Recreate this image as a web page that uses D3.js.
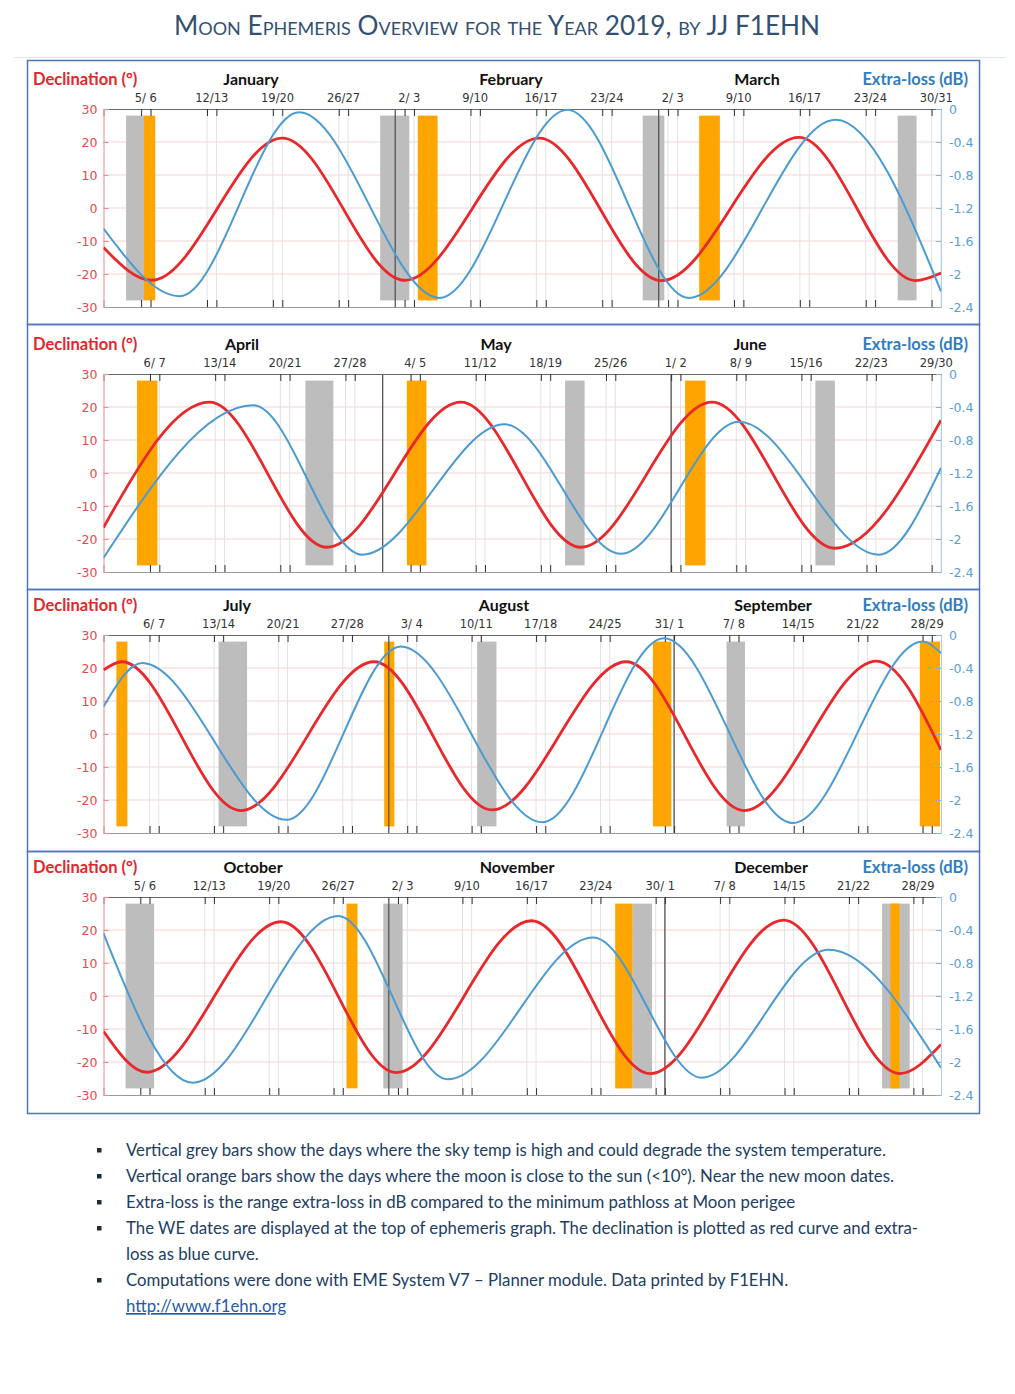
<!DOCTYPE html>
<html>
<head>
<meta charset="utf-8">
<script src="https://cdn.jsdelivr.net/npm/d3@7"></script>
<style>
  body { margin: 0; background: #fff; }
  svg { display: block; }
</style>
</head>
<body>
<div id="chart"></div>
<script>
const W = 1015, H = 1394;

// quarters shown in the four panels
const quarters = [
  { start: "2019-01-01", end: "2019-03-31", months: ["January", "February", "March"] },
  { start: "2019-04-01", end: "2019-06-30", months: ["April", "May", "June"] },
  { start: "2019-07-01", end: "2019-09-30", months: ["July", "August", "September"] },
  { start: "2019-10-01", end: "2019-12-31", months: ["October", "November", "December"] }
];

// week-end labels (Sat/Sun), one list per quarter
const weLabels = [
  ["5/ 6", "12/13", "19/20", "26/27", "2/ 3", "9/10", "16/17", "23/24", "2/ 3", "9/10", "16/17", "23/24", "30/31"],
  ["6/ 7", "13/14", "20/21", "27/28", "4/ 5", "11/12", "18/19", "25/26", "1/ 2", "8/ 9", "15/16", "22/23", "29/30"],
  ["6/ 7", "13/14", "20/21", "27/28", "3/ 4", "10/11", "17/18", "24/25", "31/ 1", "7/ 8", "14/15", "21/22", "28/29"],
  ["5/ 6", "12/13", "19/20", "26/27", "2/ 3", "9/10", "16/17", "23/24", "30/ 1", "7/ 8", "14/15", "21/22", "28/29"]
];

// declination (deg) : [days since start of quarter, value]
const declQ1 = [[0, -12], [5.1, -21.9], [19.0, 21.2], [32.0, -21.9], [46.3, 21.2], [59.3, -22.0], [73.9, 21.4], [86.3, -22.0], [89, -19.7]];
const declQ2 = [[0, -16.5], [11.4, 21.5], [24.0, -22.5], [38.4, 21.5], [51.3, -22.5], [65.4, 21.5], [78.6, -22.8], [90, 16]];
const declQ3 = [[0, 19.4], [2.0, 21.9], [14.9, -23.2], [29.4, 21.9], [42.2, -23.0], [56.8, 21.9], [69.6, -23.2], [84.0, 22.1], [91, -4.8]];
const declQ4 = [[0, -10.7], [4.7, -23.1], [19.3, 22.5], [31.8, -23.2], [46.5, 22.8], [59.4, -23.5], [73.9, 23.0], [86.5, -23.5], [91, -14.7]];

// extra-loss (dB) : [days since start of quarter, value]
const lossQ1 = [[0, -1.45], [8.1, -2.27], [20.8, -0.04], [35.7, -2.29], [49.3, -0.01], [62.2, -2.29], [77.8, -0.13], [89, -2.21]];
const lossQ2 = [[0, -2.23], [16.1, -0.38], [27.8, -2.19], [43.1, -0.61], [55.6, -2.18], [68.3, -0.58], [83.3, -2.19], [90, -1.14]];
const lossQ3 = [[0, -0.87], [4.2, -0.34], [19.9, -2.24], [32.3, -0.14], [47.7, -2.27], [60.9, -0.04], [74.9, -2.28], [89.0, -0.08], [91, -0.22]];
const lossQ4 = [[0, -0.44], [9.7, -2.25], [25.5, -0.23], [37.4, -2.21], [53.2, -0.49], [65.0, -2.19], [78.8, -0.64], [91, -2.07]];

// grey bars (high sky temp) and orange bars (moon close to sun) : [from, to] days
const greyQ1 = [[2.4, 4.3], [29.4, 32.5], [57.3, 59.6], [84.4, 86.4]];
const greyQ2 = [[21.7, 24.7], [49.6, 51.7], [76.5, 78.6]];
const greyQ3 = [[12.5, 15.6], [40.6, 42.7], [67.7, 69.7]];
const greyQ4 = [[2.4, 5.5], [30.4, 32.5], [57.5, 59.6], [84.6, 87.6]];
const orangeQ1 = [[4.3, 5.5], [33.4, 35.5], [63.3, 65.5]];
const orangeQ2 = [[3.6, 5.8], [32.6, 34.7], [62.5, 64.7]];
const orangeQ3 = [[1.4, 2.6], [30.5, 31.6], [59.7, 61.7], [88.7, 90.9]];
const orangeQ4 = [[26.4, 27.6], [55.6, 57.5], [85.5, 86.5]];

const declTicks = [-30, -20, -10, 0, 10, 20, 30];
const lossTicks = [0, -0.4, -0.8, -1.2, -1.6, -2, -2.4];

const notes = [
  "Vertical grey bars show the days where the sky temp is high and could degrade the system temperature.",
  "Vertical orange bars show the days where the moon is close to the sun (<10°). Near the new moon dates.",
  "Extra-loss is the range extra-loss in dB compared to the minimum pathloss at Moon perigee",
  "The WE dates are displayed at the top of ephemeris graph. The declination is plotted as red curve and extra-|loss as blue curve.",
  "Computations were done with EME System V7 – Planner module. Data printed by F1EHN.|http://www.f1ehn.org"
];

const declData = [declQ1, declQ2, declQ3, declQ4];
const lossData = [lossQ1, lossQ2, lossQ3, lossQ4];
const greyData = [greyQ1, greyQ2, greyQ3, greyQ4];
const orangeData = [orangeQ1, orangeQ2, orangeQ3, orangeQ4];

// layout
const plotL = 103.5, plotR = 941, plotH = 198;
const plotTops = [109, 374, 635, 897];
const boxYs = [60, 324, 589, 851, 1113];
const monthLabelX = [[251, 511, 757], [242, 496, 750], [237, 504, 773], [253, 517, 771]];
const tickFont = "'DejaVu Sans', Verdana, sans-serif";
const parseDay = d3.utcParse("%Y-%m-%d");

const svg = d3.select("#chart").append("svg")
  .attr("width", W)
  .attr("height", H)
  .style("font-family", "Lato, sans-serif");

// title
svg.append("text")
  .attr("x", 497)
  .attr("y", 35)
  .attr("text-anchor", "middle")
  .attr("fill", "#34506f")
  .style("font-size", "26.2px")
  .style("font-variant", "small-caps")
  .text("Moon Ephemeris Overview for the Year 2019, by JJ F1EHN");

svg.append("line")
  .attr("x1", 14).attr("x2", 1005)
  .attr("y1", 57.5).attr("y2", 57.5)
  .attr("stroke", "#dce8f5");

quarters.forEach((q, i) => drawPanel(q, i));
drawNotes();

function drawPanel(q, i) {
  const start = parseDay(q.start), end = parseDay(q.end);
  const nDays = d3.utcDay.count(start, end);
  const top = plotTops[i], bottom = top + plotH;

  const x = d3.scaleLinear().domain([0, nDays]).range([plotL, plotR]);
  const y = d3.scaleLinear().domain([-30, 30]).range([bottom, top]);
  const yLoss = d3.scaleLinear().domain([-2.4, 0]).range([bottom, top]);

  const g = svg.append("g").attr("class", "panel");

  // panel frame
  g.append("rect")
    .attr("x", 27.5).attr("y", boxYs[i] + 0.5)
    .attr("width", 952).attr("height", boxYs[i + 1] - boxYs[i])
    .attr("fill", "none")
    .attr("stroke", "#4f76b8")
    .attr("stroke-width", 1.5);

  const clipId = "clip" + i;
  g.append("clipPath").attr("id", clipId)
    .append("rect")
    .attr("x", plotL).attr("y", top)
    .attr("width", plotR - plotL).attr("height", plotH);

  // week-end days
  const sats = d3.utcSaturday.range(start, d3.utcDay.offset(end, 1));
  const weDays = [];
  sats.forEach(s => {
    weDays.push(d3.utcDay.count(start, s));
    const sun = d3.utcDay.offset(s, 1);
    if (sun <= end) weDays.push(d3.utcDay.count(start, sun));
  });

  // grids
  g.append("g").selectAll("line").data(declTicks.slice(1, -1)).join("line")
    .attr("x1", plotL).attr("x2", plotR)
    .attr("y1", d => y(d)).attr("y2", d => y(d))
    .attr("stroke", "#f7d3d3")
    .attr("stroke-width", 1);

  g.append("g").selectAll("line").data(weDays).join("line")
    .attr("x1", d => x(d)).attr("x2", d => x(d))
    .attr("y1", top).attr("y2", bottom)
    .attr("stroke", "#e2e2e2")
    .attr("stroke-width", 1);

  // bars
  const bars = g.append("g").attr("clip-path", `url(#${clipId})`);
  bars.selectAll("rect.grey").data(greyData[i]).join("rect")
    .attr("class", "grey")
    .attr("x", d => x(d[0]))
    .attr("width", d => x(d[1]) - x(d[0]))
    .attr("y", y(28))
    .attr("height", y(-28) - y(28))
    .attr("fill", "#bdbdbd");
  bars.selectAll("rect.orange").data(orangeData[i]).join("rect")
    .attr("class", "orange")
    .attr("x", d => x(d[0]))
    .attr("width", d => x(d[1]) - x(d[0]))
    .attr("y", y(28))
    .attr("height", y(-28) - y(28))
    .attr("fill", "#ffa500");

  // month boundaries
  const monthStarts = d3.utcMonth.range(d3.utcDay.offset(start, 1), end)
    .map(m => d3.utcDay.count(start, m));
  g.append("g").selectAll("line").data(monthStarts).join("line")
    .attr("x1", d => x(d)).attr("x2", d => x(d))
    .attr("y1", top).attr("y2", bottom)
    .attr("stroke", "#555")
    .attr("stroke-width", 1.3);

  // week-end tick marks top and bottom
  g.append("g")
    .attr("transform", `translate(0,${top})`)
    .call(d3.axisTop(x).tickValues(weDays).tickSize(-7).tickFormat(""))
    .call(a => a.select(".domain").attr("stroke", "#666"))
    .call(a => a.selectAll(".tick line").attr("stroke", "#333"));
  g.append("g")
    .attr("transform", `translate(0,${bottom})`)
    .call(d3.axisBottom(x).tickValues(weDays).tickSize(-7).tickFormat(""))
    .call(a => a.select(".domain").attr("stroke", "#999"))
    .call(a => a.selectAll(".tick line").attr("stroke", "#333"));

  // week-end labels
  g.append("g").selectAll("text").data(sats).join("text")
    .attr("x", s => x(d3.utcDay.count(start, s) + 0.5))
    .attr("y", top - 7.5)
    .attr("text-anchor", "middle")
    .attr("fill", "#333")
    .style("font-family", tickFont)
    .style("font-size", "11.5px")
    .text((s, k) => weLabels[i][k].replace(" ", "\u00a0"));

  // month names
  g.append("g").selectAll("text").data(q.months).join("text")
    .attr("x", (m, k) => monthLabelX[i][k])
    .attr("y", top - 24)
    .attr("text-anchor", "middle")
    .attr("fill", "#111")
    .style("font-size", "16px")
    .style("font-weight", "bold")
    .text(m => m);

  // axis titles
  g.append("text")
    .attr("x", 33).attr("y", top - 24)
    .attr("fill", "#e3262b")
    .style("font-size", "16.5px")
    .style("font-weight", "bold")
    .text("Declination (°)");
  g.append("text")
    .attr("x", 968).attr("y", top - 24)
    .attr("text-anchor", "end")
    .attr("fill", "#2f7dc1")
    .style("font-size", "16.5px")
    .style("font-weight", "bold")
    .text("Extra-loss (dB)");

  // left axis (declination)
  g.append("g")
    .attr("transform", `translate(${plotL},0)`)
    .call(d3.axisLeft(y).tickValues(declTicks).tickSize(-5).tickPadding(6).tickFormat(d => String(d)))
    .call(a => a.select(".domain").attr("stroke", "#f08a8a"))
    .call(a => a.selectAll(".tick line").attr("stroke", "#f08a8a"))
    .call(a => a.selectAll(".tick text")
      .attr("fill", "#e84a4a")
      .style("font-family", tickFont)
      .style("font-size", "12.5px"));

  // right axis (extra-loss)
  g.append("g")
    .attr("transform", `translate(${plotR},0)`)
    .call(d3.axisRight(yLoss).tickValues(lossTicks).tickSize(-5).tickPadding(8).tickFormat(d => String(d)))
    .call(a => a.select(".domain").attr("stroke", "#a9cdea"))
    .call(a => a.selectAll(".tick line").attr("stroke", "#7fb3e0"))
    .call(a => a.selectAll(".tick text")
      .attr("fill", "#5a9ed8")
      .style("font-family", tickFont)
      .style("font-size", "12.5px"));

  // curves
  const curves = g.append("g").attr("clip-path", `url(#${clipId})`);
  curves.append("path")
    .datum(declData[i])
    .attr("fill", "none")
    .attr("stroke", "#e8282b")
    .attr("stroke-width", 2.8)
    .attr("d", d3.line().x(d => x(d[0])).y(d => y(d[1])).curve(d3.curveMonotoneX));
  curves.append("path")
    .datum(lossData[i])
    .attr("fill", "none")
    .attr("stroke", "#4a9bd1")
    .attr("stroke-width", 2)
    .attr("d", d3.line().x(d => x(d[0])).y(d => yLoss(d[1])).curve(d3.curveMonotoneX));
}

function drawNotes() {
  const g = svg.append("g").attr("class", "notes");
  let yy = 1156;
  notes.forEach(n => {
    const parts = n.split("|");
    g.append("rect")
      .attr("x", 97).attr("y", yy - 8)
      .attr("width", 4.5).attr("height", 4.5)
      .attr("fill", "#1e2b3c");
    parts.forEach(p => {
      const isLink = p.startsWith("http");
      g.append("text")
        .attr("x", 126).attr("y", yy)
        .attr("fill", isLink ? "#1f5ba8" : "#213d62")
        .style("font-size", "16.8px")
        .style("text-decoration", isLink ? "underline" : null)
        .text(p);
      yy += 26;
    });
  });
}
</script>
</body>
</html>
